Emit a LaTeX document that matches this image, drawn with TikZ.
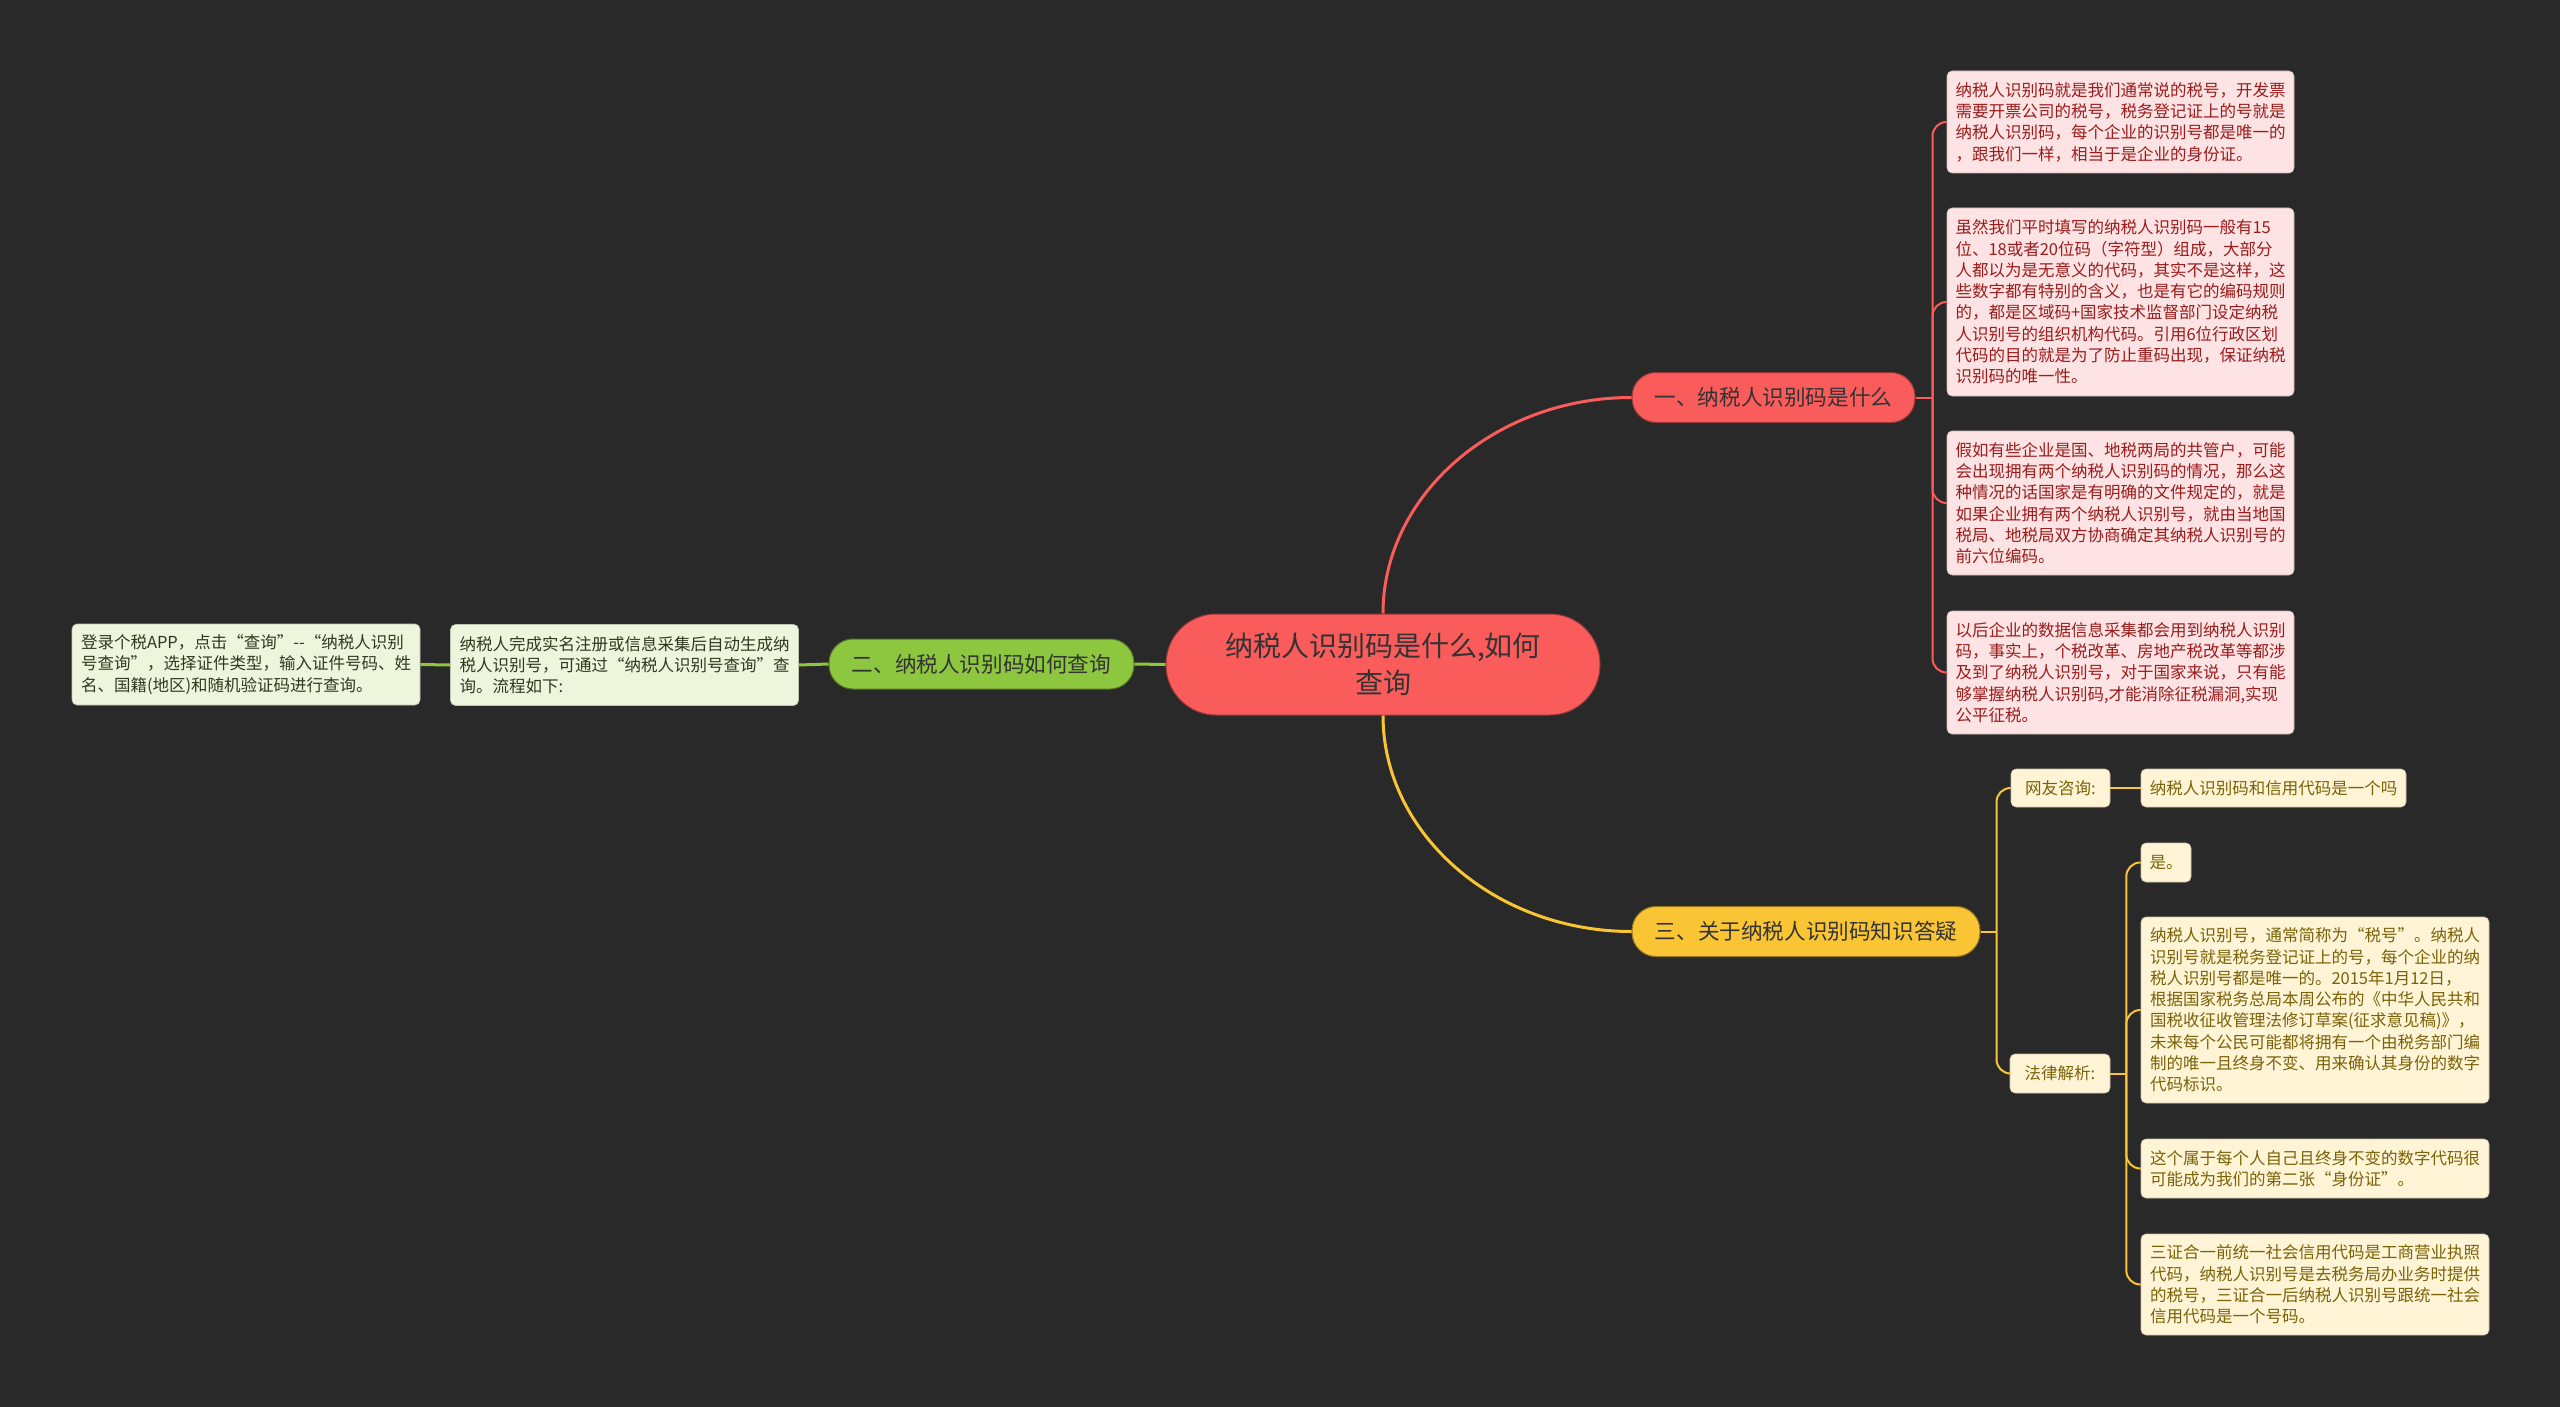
\documentclass[tikz,border=0pt]{standalone}
\usepackage{fontspec}
\setmainfont{Noto Sans CJK SC}
\definecolor{bgc}{HTML}{292929}
\definecolor{redfill}{HTML}{FA5B5B}
\definecolor{redbox}{HTML}{FDE3E3}
\definecolor{redtxt}{HTML}{9B1C1C}
\definecolor{grnfill}{HTML}{8DC63F}
\definecolor{grnbox}{HTML}{EEF5DD}
\definecolor{grntxt}{HTML}{2E3A1E}
\definecolor{yelfill}{HTML}{FAC534}
\definecolor{yelbox}{HTML}{FFF4D6}
\definecolor{yeltxt}{HTML}{7A6208}
\begin{document}
\begin{tikzpicture}[x=1pt,y=-1pt,
    root/.style={rounded corners=50pt,fill=redfill,draw=redfill!60!black,line width=1pt,inner sep=0pt,
      minimum width=434pt,minimum height=101pt,align=center,text=black!80,font=\fontsize{28}{37}\selectfont},
    topic/.style={rounded corners=24pt,draw=#1!60!black,line width=1pt,fill=#1,inner sep=0pt,
      minimum height=50pt,text=black!80,font=\fontsize{21.6}{26}\selectfont},
    note/.style={rounded corners=5pt,fill=#1,draw=#1!80!black,line width=0.6pt,inner sep=0pt,
      align=left,font=\fontsize{16.5}{21.3}\selectfont},
    rnote/.style={note=redbox,text=redtxt,minimum width=347pt},
    gnote/.style={note=grnbox,text=grntxt,minimum width=348pt},
    ynote/.style={note=yelbox,text=yeltxt},
    rl/.style={draw=redfill,line width=2pt},
    gl/.style={draw=grnfill,line width=3pt},
    yl/.style={draw=yelfill,line width=2pt}]
\fill[bgc] (0,0) rectangle (2560,1407);
% centre
\node[root] (root) at (1383,664.5) {纳税人识别码是什么,如何\\查询};
% topics
\node[topic=redfill,minimum width=283pt] (b1) at (1773.5,397.5) {一、纳税人识别码是什么};
\node[topic=grnfill,minimum width=305pt] (b2) at (981.5,664) {二、纳税人识别码如何查询};
\node[topic=yelfill,minimum width=348pt] (b3) at (1806,931.5) {三、关于纳税人识别码知识答疑};
% red notes
\node[rnote,minimum height=102pt] (r1) at (2120.5,122) {纳税人识别码就是我们通常说的税号，开发票\\
需要开票公司的税号，税务登记证上的号就是\\
纳税人识别码，每个企业的识别号都是唯一的\\
，跟我们一样，相当于是企业的身份证。};
\node[rnote,minimum height=188pt] (r2) at (2120.5,302) {虽然我们平时填写的纳税人识别码一般有15\\
位、18或者20位码（字符型）组成，大部分\\
人都以为是无意义的代码，其实不是这样，这\\
些数字都有特别的含义，也是有它的编码规则\\
的，都是区域码+国家技术监督部门设定纳税\\
人识别号的组织机构代码。引用6位行政区划\\
代码的目的就是为了防止重码出现，保证纳税\\
识别码的唯一性。};
\node[rnote,minimum height=144pt] (r3) at (2120.5,503) {假如有些企业是国、地税两局的共管户，可能\\
会出现拥有两个纳税人识别码的情况，那么这\\
种情况的话国家是有明确的文件规定的，就是\\
如果企业拥有两个纳税人识别号，就由当地国\\
税局、地税局双方协商确定其纳税人识别号的\\
前六位编码。};
\node[rnote,minimum height=123pt] (r4) at (2120.5,672.5) {以后企业的数据信息采集都会用到纳税人识别\\
码，事实上，个税改革、房地产税改革等都涉\\
及到了纳税人识别号，对于国家来说，只有能\\
够掌握纳税人识别码,才能消除征税漏洞,实现\\
公平征税。};
% green notes
\node[gnote,minimum height=81pt] (gB) at (624.5,665) {纳税人完成实名注册或信息采集后自动生成纳\\
税人识别号，可通过“纳税人识别号查询”查\\
询。流程如下:};
\node[gnote,minimum height=81pt] (gA) at (246,664.5) {登录个税APP，点击“查询”-{}-“纳税人识别\\
号查询”，选择证件类型，输入证件号码、姓\\
名、国籍(地区)和随机验证码进行查询。};
% yellow notes
\node[ynote,minimum width=99pt,minimum height=38pt] (y1) at (2060.5,788) {网友咨询:};
\node[ynote,minimum width=265pt,minimum height=38pt] (y2) at (2273.5,788) {纳税人识别码和信用代码是一个吗};
\node[ynote,minimum width=100pt,minimum height=39pt] (y3) at (2060,1073.5) {法律解析:};
\node[ynote,minimum width=50pt,minimum height=39pt] (y4) at (2166,862.5) {是。};
\node[ynote,minimum width=348pt,minimum height=186pt] (y5) at (2315,1010) {纳税人识别号，通常简称为“税号”。纳税人\\
识别号就是税务登记证上的号，每个企业的纳\\
税人识别号都是唯一的。2015年1月12日，\\
根据国家税务总局本周公布的《中华人民共和\\
国税收征收管理法修订草案(征求意见稿)》，\\
未来每个公民可能都将拥有一个由税务部门编\\
制的唯一且终身不变、用来确认其身份的数字\\
代码标识。};
\node[ynote,minimum width=348pt,minimum height=59pt] (y6) at (2315,1168.5) {这个属于每个人自己且终身不变的数字代码很\\
可能成为我们的第二张“身份证”。};
\node[ynote,minimum width=348pt,minimum height=101pt] (y7) at (2315,1284.5) {三证合一前统一社会信用代码是工商营业执照\\
代码，纳税人识别号是去税务局办业务时提供\\
的税号，三证合一后纳税人识别号跟统一社会\\
信用代码是一个号码。};
% centre to topics
\draw[rl,line width=3pt] (root.north) .. controls (1383,495) and (1495,397.5) .. (b1.west);
\draw[yl,line width=3pt] (root.south) .. controls (1383,834) and (1495,931.5) .. (b3.west);
\draw[gl] (root.west) -- (b2.east);
\draw[gl] (b2.west) -- (gB.east);
\draw[gl] (gB.west) -- (gA.east);
% red branch
\draw[rl] (b1.east) -- ++(17,0) coordinate (j1);
\foreach \n in {r1,r2,r3,r4}
  \draw[rl,rounded corners=14pt] (j1) |- (\n.west);
% yellow branch
\draw[yl] (b3.east) -- ++(16,0) coordinate (j3);
\foreach \n in {y1,y3}
  \draw[yl,rounded corners=14pt] (j3) |- (\n.west);
\draw[yl] (y1.east) -- (y2.west);
\draw[yl] (y3.east) -- ++(16,0) coordinate (j4);
\foreach \n in {y4,y5,y6,y7}
  \draw[yl,rounded corners=14pt] (j4) |- (\n.west);
\end{tikzpicture}
\end{document}
